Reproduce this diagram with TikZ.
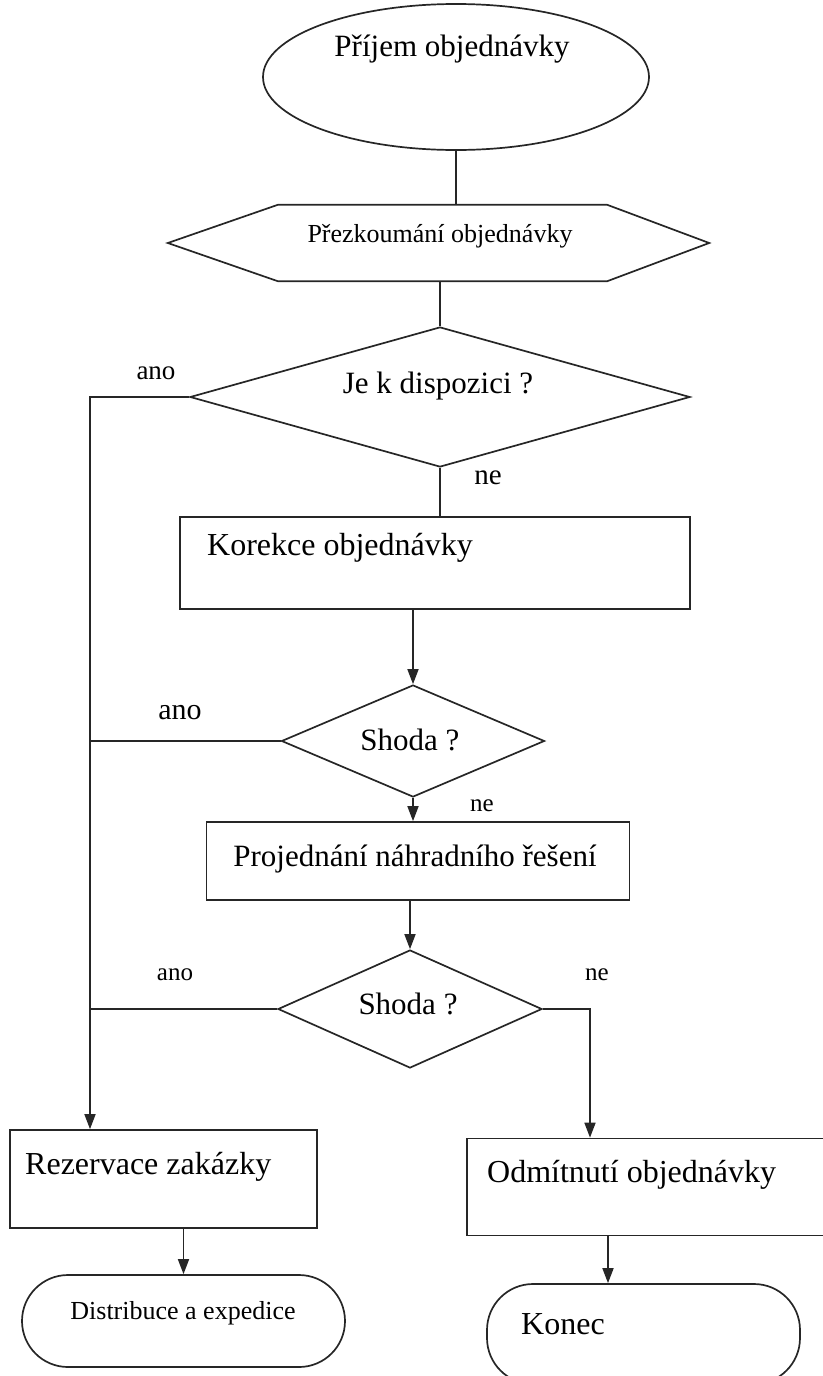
\documentclass[tikz,border=0pt]{standalone}
\usepackage{fontspec}
\setmainfont{Liberation Serif}
\usetikzlibrary{shapes.geometric,arrows.meta,calc}

\tikzset{
  line/.style={line width=1.7pt, black!85},
  arr/.style={line, -{Triangle[length=15pt,width=11pt]}},
  terminal/.style={ellipse, draw, line, inner sep=0pt},
  decision/.style={diamond, draw, line, inner sep=0pt},
  process/.style={rectangle, draw, line, inner sep=0pt},
  pill/.style={rectangle, draw, line, rounded corners=46pt, inner sep=0pt},
  frame/.style={rectangle, inner sep=0pt},
  txt/.style={font=\fontsize{32}{35}\selectfont, inner sep=0pt},
  lbl/.style={font=\fontsize{25}{27}\selectfont, inner sep=0pt},
}

\begin{document}
\begin{tikzpicture}[x=1pt, y=-1pt]
  \useasboundingbox (0,0) rectangle (822,1376);

  % start of the process
  \node[terminal, minimum width=386pt, minimum height=146pt] (start) at (456,77) {};
  \node[txt, font=\fontsize{31}{34}\selectfont] (startT) at (452,49) {Příjem objednávky};

  % preparation step (hexagon)
  \node[frame, minimum width=541pt, minimum height=76pt] (review) at (438.5,243) {};
  \draw[line] (review.west) -- ([xshift=110pt]review.north west)
     -- ([xshift=-102pt]review.north east) -- (review.east)
     -- ([xshift=-102pt]review.south east) -- ([xshift=110pt]review.south west) -- cycle;
  \node[txt, font=\fontsize{26}{29}\selectfont] (reviewT) at (440,236) {Přezkoumání objednávky};

  % first decision
  \node[decision, minimum width=500pt, minimum height=140pt] (d1) at (440,397) {};
  \node[txt, font=\fontsize{31}{34}\selectfont] (d1T) at (438,386) {Je k dispozici ?};

  % correction
  \node[process, minimum width=510pt, minimum height=92pt] (kor) at (435,563) {};
  \node[txt, anchor=west] (korT) at (207,548) {Korekce objednávky};

  % second decision
  \node[decision, minimum width=263pt, minimum height=112pt] (d2) at (413,741) {};
  \node[txt, font=\fontsize{31}{34}\selectfont] (d2T) at (410,740) {Shoda ?};

  % alternative solution
  \node[process, minimum width=423pt, minimum height=78pt] (alt) at (418,861) {};
  \node[txt, font=\fontsize{31}{34}\selectfont] (altT) at (415,859) {Projednání náhradního řešení};

  % third decision
  \node[decision, minimum width=264pt, minimum height=118pt] (d3) at (410,1009) {};
  \node[txt, font=\fontsize{31}{34}\selectfont] (d3T) at (408,1004) {Shoda ?};

  % outcomes
  \node[process, minimum width=307pt, minimum height=98pt] (rez) at (163.5,1179) {};
  \node[txt, anchor=west] (rezT) at (25,1167) {Rezervace zakázky};

  \node[process, minimum width=360pt, minimum height=97pt] (odm) at (647,1187) {};
  \node[txt, anchor=west] (odmT) at (487,1175) {Odmítnutí objednávky};

  \node[pill, minimum width=323pt, minimum height=92pt] (dist) at (183.5,1321) {};
  \node[txt, font=\fontsize{26}{29}\selectfont] (distT) at (183,1313) {Distribuce a expedice};

  \node[pill, minimum width=313pt, minimum height=100pt] (konec) at (643.5,1334) {};
  \node[txt, anchor=west] (konecT) at (521,1324) {Konec};

  % branch labels
  \node[lbl, font=\fontsize{27}{29}\selectfont] (a1) at (156,373) {ano};
  \node[lbl, font=\fontsize{29}{31}\selectfont] (n1) at (488,478) {ne};
  \node[lbl, font=\fontsize{30}{32}\selectfont] (a2) at (180,713) {ano};
  \node[lbl] (n2) at (482,806) {ne};
  \node[lbl] (a3) at (175,975) {ano};
  \node[lbl] (n3) at (597,975) {ne};

  % collecting line on the left
  \coordinate (busTop) at (90,397);

  % connectors
  \draw[line] (start.south) -- (start.south |- review.north);
  \draw[line] (review.south -| d1.north) -- (d1.north);
  \draw[line] (d1.south) -- (d1.south |- kor.north);
  \draw[arr] (kor.south -| d2.north) -- (d2.north);
  \draw[arr] (d2.south) -- (d2.south |- alt.north);
  \draw[arr] (alt.south -| d3.north) -- (d3.north);

  \draw[arr] (d1.west) -- (busTop) -- (busTop |- rez.north);
  \draw[line] (d2.west) -- (d2.west -| busTop);
  \draw[line] (d3.west) -- (d3.west -| busTop);

  \draw[arr] (d3.east) -- (d3.east -| 590,0) -- (590,0 |- odm.north);
  \draw[arr] (rez.south -| dist.north) -- (dist.north);
  \draw[arr] (odm.south -| 608,0) -- (608,0 |- konec.north);
\end{tikzpicture}
\end{document}
